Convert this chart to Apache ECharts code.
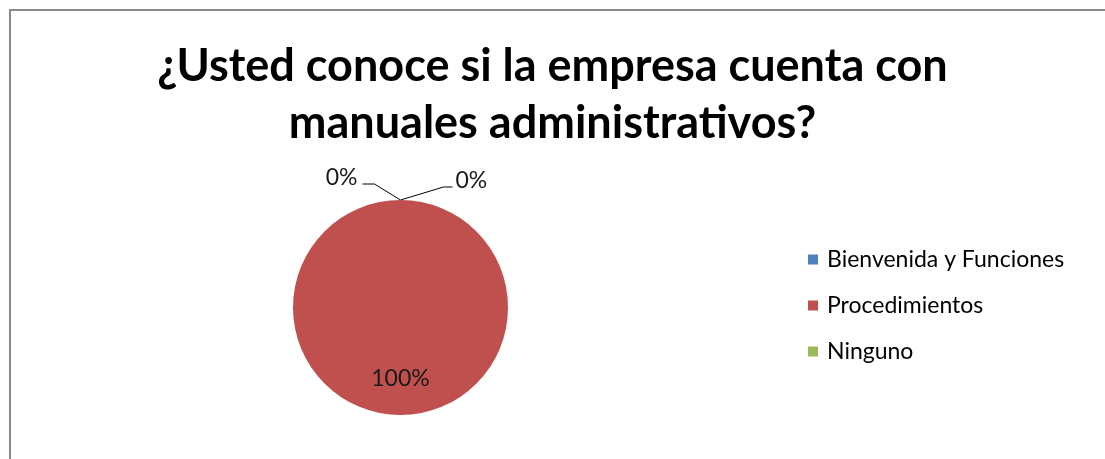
<!DOCTYPE html>
<html>
<head>
<meta charset="utf-8">
<script src="https://cdn.jsdelivr.net/npm/echarts@6/dist/echarts.min.js"></script>
<style>
  html, body { margin: 0; padding: 0; background: #fff; overflow: hidden; }
  #chart { position: absolute; left: 0; top: 0; width: 1105px; height: 459px; }
  #frame { position: absolute; left: 9px; top: 9px; width: 1110px; height: 470px;
           border-left: 2px solid #8a8a8a; border-top: 2px solid #8a8a8a; pointer-events: none; }
</style>
</head>
<body>
<div id="chart"></div>
<div id="frame"></div>
<script>
// Survey answers and their share of responses (percent)
const categories = ['Bienvenida y Funciones', 'Procedimientos', 'Ninguno'];
const values = [0, 100, 0];
const colors = ['#4F81BD', '#C0504D', '#9BBB59'];
const titleText = '¿Usted conoce si la empresa cuenta con\nmanuales administrativos?';

const FONT = 'Lato, "Open Sans", sans-serif';
const total = values.reduce((a, b) => a + b, 0);

const chart = echarts.init(document.getElementById('chart'), null, { renderer: 'canvas' });

chart.setOption({
  animation: false,
  color: colors,
  title: {
    text: titleText,
    left: 'center',
    top: 33,
    padding: [5, 0, 5, 12],
    textStyle: {
      fontFamily: FONT,
      fontSize: 45,
      fontWeight: 'bold',
      color: '#000',
      lineHeight: 57
    }
  },
  legend: {
    orient: 'vertical',
    left: 803,
    top: 243,
    itemWidth: 10,
    itemHeight: 10,
    itemGap: 23,
    icon: 'rect',
    data: categories,
    textStyle: { fontFamily: FONT, fontSize: 23, color: '#000', lineHeight: 23, padding: [0, 0, 0, 4] }
  },
  series: [{
    type: 'pie',
    center: [400.5, 307.5],
    radius: 107.5,
    startAngle: 90,
    clockwise: true,
    avoidLabelOverlap: false,
    stillShowZeroSum: true,
    data: categories.map((name, i) => ({
      name,
      value: values[i],
      label: values[i] === 0
        ? { position: 'outside' }
        : { position: 'inside' },
      labelLine: { show: values[i] === 0 }
    })),
    label: {
      formatter: p => Math.round(p.value / total * 100) + '%',
      fontFamily: FONT,
      fontSize: 23,
      color: '#1a1a1a'
    },
    labelLine: {
      lineStyle: { color: '#000', width: 1 }
    },
    itemStyle: { borderWidth: 0 },
    emphasis: { disabled: true },
    // Callouts for the empty slices hang off the slice's own rim point;
    // the full slice's label sits a little toward the lower rim
    labelLayout: function (params) {
      const idx = params.dataIndex;
      if (values[idx] !== 0) {
        return { dy: 14 };
      }
      const a = params.labelLinePoints ? params.labelLinePoints[0] : null;
      if (!a) return {};
      const left = idx === categories.length - 1;
      if (left) {
        return {
          x: a[0] - 43, y: a[1] - 22, align: 'right', verticalAlign: 'middle',
          labelLinePoints: [[a[0], a[1]], [a[0] - 26, a[1] - 16], [a[0] - 38, a[1] - 16]]
        };
      }
      return {
        x: a[0] + 55, y: a[1] - 19, align: 'left', verticalAlign: 'middle',
        labelLinePoints: [[a[0], a[1]], [a[0] + 43, a[1] - 13], [a[0] + 52, a[1] - 13]]
      };
    }
  }]
});
</script>
</body>
</html>
